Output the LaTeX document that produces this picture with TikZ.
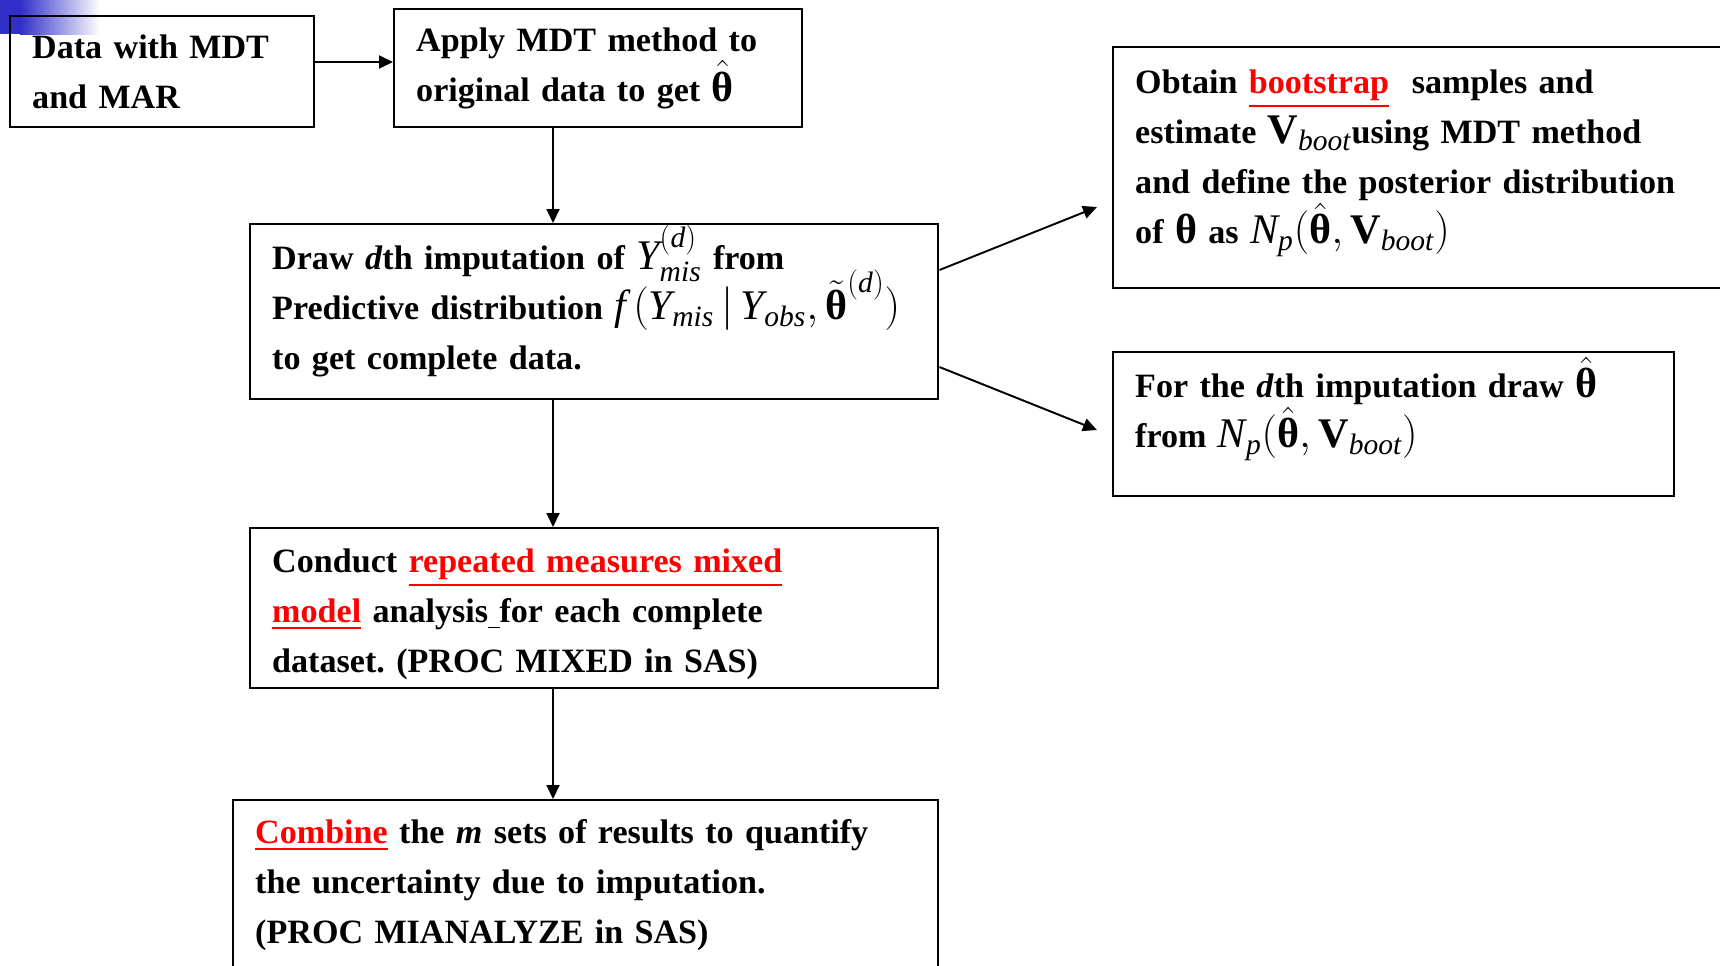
\documentclass[tikz,border=0pt]{standalone}
\usepackage{amsmath}
\usepackage{fontspec}
\setmainfont{Liberation Serif}
\usetikzlibrary{calc,arrows.meta}

\definecolor{slideblue}{RGB}{48,48,200}
\frenchspacing
\setlength{\lineskiplimit}{-30pt}
\setlength{\normallineskiplimit}{-30pt}
\newcommand{\itv}[1]{\text{\normalfont\itshape #1}}
\newcommand{\thb}{\text{\normalfont\bfseries θ}}
\newcommand{\Vb}{\text{\normalfont\bfseries V}}
\newcommand{\mth}[1]{{\fontsize{24}{28.45}\selectfont$#1$}}
\newcommand{\redu}[1]{\textcolor{red}{\underline{#1}}}

\begin{document}
\begin{tikzpicture}[scale=1.0,
    stage/.style={draw, line width=1.4pt, anchor=north west, align=left,
      inner xsep=0.44cm, inner ysep=0pt,
      font=\fontsize{19.4}{28.45}\selectfont\bfseries},
    arr/.style={-{Triangle[length=0.28cm,width=0.26cm]}, line width=1.1pt}]
  \useasboundingbox (0,0) rectangle (34.4,-19.3);
  \clip (0,0) rectangle (34.4,-19.3);

  % slide corner mark
  \fill[slideblue] (0,0) rectangle (0.4,-0.68);
  \shade[left color=slideblue, right color=white] (0.4,0) rectangle (2.0,-0.68);

  \coordinate (spine) at (11.06,0);
  \coordinate (row) at (0,-1.24);
  \coordinate (tipA) at (21.94,-4.14);
  \coordinate (tipB) at (21.94,-8.60);

  \node[stage, text width=5.2cm, minimum height=2.22cm] (data) at (0.18,-0.30)
    {Data with MDT\\and MAR};
  \node[stage, text width=7.28cm, minimum height=2.36cm] (apply) at (7.86,-0.16)
    {Apply MDT method to\\original data to get \mth{\hat{\thb}}};
  \node[stage, text width=12.88cm, minimum height=3.5cm] (draw) at (4.98,-4.46)
    {Draw \textit{d}th imputation of \mth{\itv{Y}^{(\itv{d})}_{\itv{mis}}} from\\
     Predictive distribution \mth{\itv{f}\,(\itv{Y}_{\itv{mis}}\,|\,\itv{Y}_{\itv{obs}},\tilde{\thb}^{(\itv{d})})}\\
     to get complete data.\\[-0.41cm]\mbox{}};
  \node[stage, text width=12.88cm, minimum height=3.2cm] (conduct) at (4.98,-10.54)
    {\mbox{}\\[-0.28cm]
     Conduct \redu{repeated measures mixed}\\
     \redu{model} analysis\underline{\ }for each complete\\
     dataset. (PROC MIXED in SAS)};
  \node[stage, text width=13.22cm, minimum height=3.4cm] (combine) at (4.64,-15.98)
    {\redu{Combine} the \textit{m} sets of results to quantify\\
     the uncertainty due to imputation.\\
     (PROC MIANALYZE in SAS)};
  \node[stage, text width=12.2cm, minimum height=4.82cm] (boot) at (22.24,-0.92)
    {Obtain \redu{bootstrap}\ \ samples and\\
     estimate \mth{\Vb_{\itv{boot}}}using MDT method\\
     and define the posterior distribution\\
     of \mth{\thb} as \mth{\itv{N}_{\itv{p}}(\hat{\thb},\Vb_{\itv{boot}})}\\[-0.57cm]\mbox{}};
  \node[stage, text width=10.34cm, minimum height=2.88cm] (fromN) at (22.24,-7.02)
    {For the \textit{d}th imputation draw \mth{\hat{\thb}}\\
     from \mth{\itv{N}_{\itv{p}}(\hat{\thb},\Vb_{\itv{boot}})}\\[-0.12cm]\mbox{}};

  \draw[arr] (data.east |- row) -- (apply.west |- row);
  \draw[arr] (apply.south -| spine) -- (draw.north -| spine);
  \draw[arr] (draw.south -| spine) -- (conduct.north -| spine);
  \draw[arr] (conduct.south -| spine) -- (combine.north -| spine);
  \draw[arr] ($(draw.north east)+(0,-0.94)$) -- (tipA);
  \draw[arr] ($(draw.north east)+(0,-2.88)$) -- (tipB);
\end{tikzpicture}
\end{document}
